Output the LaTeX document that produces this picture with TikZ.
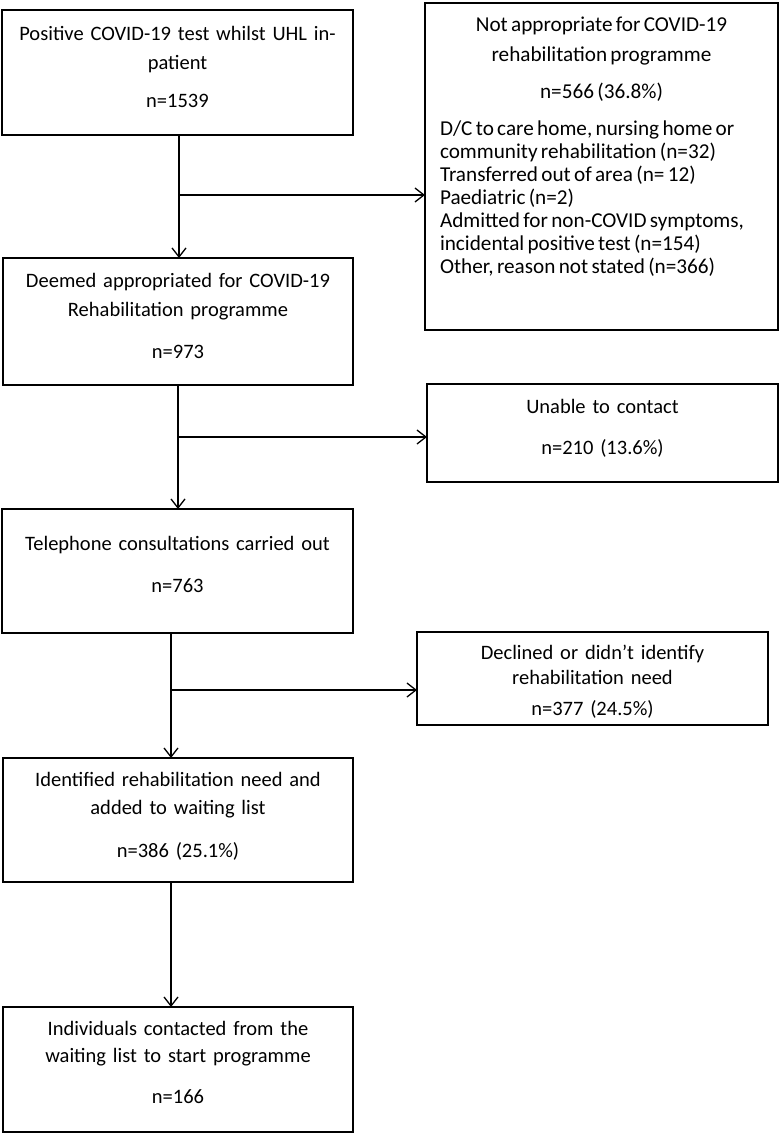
\documentclass[tikz,border=0pt]{standalone}
\usepackage{fontspec}
\setmainfont{Carlito}
\usetikzlibrary{arrows.meta}
\begin{document}
\begin{tikzpicture}[x=1pt,y=-1pt,
  boxbase/.style={draw, line width=1.4pt, inner sep=0pt, outer sep=0pt},
  box/.style={boxbase, align=center, text width=345pt, font=\fontsize{20.5}{29}\selectfont},
  arr/.style={line width=1.3pt, -{Straight Barb[length=9pt,width=14pt,line width=1.3pt]}}]
\path[fill=white] (0,0) rectangle (780,1134);
\useasboundingbox (0,0) rectangle (780,1134);

\node[box, minimum width=351pt, minimum height=125pt, text depth=78.5pt] (A) at (177.5,72.5)
  {Positive COVID-19 test whilst UHL in-\\patient\\[9pt]n=1539};

\node[boxbase, minimum width=353pt, minimum height=327pt, text width=323pt, text depth=285.5pt] (B) at (601.5,166.5)
  {\parindent=0pt\parskip=0pt
   {\fontsize{21.2}{30}\selectfont\centering Not appropriate for COVID-19\\rehabilitation programme\\[7pt]n=566 (36.8\%)\par}
   \vspace{14pt}
   {\raggedright\fontsize{21.2}{23}\selectfont
   D/C to care home, nursing home or\\
   community rehabilitation (n=32)\\
   Transferred out of area (n= 12)\\
   Paediatric (n=2)\\
   Admitted for non-COVID symptoms,\\
   incidental positive test (n=154)\\
   Other, reason not stated (n=366)\par}};

\node[box, minimum width=350pt, minimum height=127pt, text depth=81.5pt] (C) at (178,321.5)
  {Deemed appropriated for COVID-19\\Rehabilitation programme\\[13pt]n=973};

\node[box, minimum width=351pt, minimum height=98pt, text depth=52.5pt] (D) at (602.5,433)
  {Unable to contact\\[12pt]n=210 (13.6\%)};

\node[box, minimum width=351pt, minimum height=124pt, text depth=54.5pt] (E) at (177.5,571)
  {Telephone consultations carried out\\[13pt]n=763};

\node[box, minimum width=351pt, minimum height=93pt, text depth=51.5pt, font=\fontsize{20.5}{25}\selectfont] (F) at (592.5,678.5)
  {Declined or didn’t identify\\rehabilitation need\\[6pt]n=377 (24.5\%)};

\node[box, minimum width=350pt, minimum height=124pt, text depth=80.5pt, font=\fontsize{20.5}{28}\selectfont] (G) at (178,820)
  {Identified rehabilitation need and\\added to waiting list\\[15pt]n=386 (25.1\%)};

\node[box, minimum width=350pt, minimum height=125pt, text depth=81.5pt, font=\fontsize{20.5}{27}\selectfont] (H) at (178,1069.5)
  {Individuals contacted from the\\waiting list to start programme\\[14pt]n=166};

% connectors
\coordinate (j1) at ([xshift=1.5pt,yshift=-60pt]A.south);
\draw[arr] ([xshift=1.5pt]A.south) -- ([xshift=1.5pt]A.south |- C.north);
\draw[arr] (j1) -- (j1 -| B.west);

\coordinate (j2) at ([yshift=-52pt]C.south);
\draw[arr] (C.south) -- (C.south |- E.north);
\draw[arr] (j2) -- (j2 -| D.west);

\coordinate (j3) at ([xshift=-6.5pt,yshift=-57pt]E.south);
\draw[arr] ([xshift=-6.5pt]E.south) -- ([xshift=-6.5pt]E.south |- G.north);
\draw[arr] (j3) -- (j3 -| F.west);

\draw[arr] ([xshift=-7pt]G.south) -- ([xshift=-7pt]G.south |- H.north);
\end{tikzpicture}
\end{document}
